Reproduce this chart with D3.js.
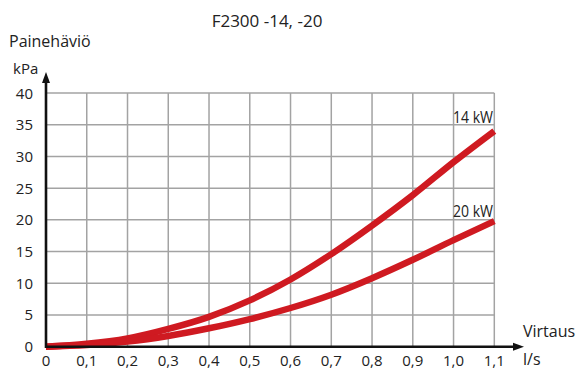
<!DOCTYPE html>
<html><head><meta charset="utf-8">
<script src="https://cdn.jsdelivr.net/npm/d3@7"></script>
<style>
html,body{margin:0;padding:0;background:#fff;}
svg{display:block;}
text{font-family:"Open Sans","Noto Sans",sans-serif;fill:#222;}
</style></head>
<body>
<svg id="c" width="578" height="369"></svg>
<script>
const title = "F2300 -14, -20";
const yTitle = "Painehäviö";
const yUnit = "kPa";
const xTitle = "Virtaus";
const xUnit = "l/s";
const flow = [0, 0.1, 0.2, 0.3, 0.4, 0.5, 0.6, 0.7, 0.8, 0.9, 1.0, 1.1];
const kw14 = [0, 0.45, 1.3, 2.8, 4.7, 7.3, 10.6, 14.6, 19.1, 23.9, 29.1, 34.0];
const kw20 = [0, 0.25, 0.8, 1.7, 2.9, 4.35, 6.1, 8.2, 10.8, 13.7, 16.8, 19.8];
const seriesNames = ["14 kW", "20 kW"];
const xTicks = [0, 0.1, 0.2, 0.3, 0.4, 0.5, 0.6, 0.7, 0.8, 0.9, 1.0, 1.1];
const yTicks = [0, 5, 10, 15, 20, 25, 30, 35, 40];

const svg = d3.select("#c");
const x = d3.scaleLinear().domain([0, 1.1]).range([46, 494.3]);
const y = d3.scaleLinear().domain([0, 40]).range([346.7, 93]);
const fmt = v => v === 0 ? "0" : d3.format(".1f")(v).replace(".", ",");

// grid
const grid = svg.append("g").attr("stroke", "#a3a3a3").attr("stroke-width", 1.5);
xTicks.filter(v => v > 0).forEach(v => {
  grid.append("line").attr("x1", x(v)).attr("x2", x(v)).attr("y1", y(0)).attr("y2", y(40));
});
yTicks.filter(v => v > 0).forEach(v => {
  grid.append("line").attr("x1", x(0)).attr("x2", x(1.1)).attr("y1", y(v)).attr("y2", y(v));
});

// curves
const line = d3.line().x((d, i) => x(flow[i])).y(d => y(d)).curve(d3.curveMonotoneX);
[kw14, kw20].forEach(s => {
  svg.append("path").attr("d", line(s)).attr("fill", "none")
    .attr("stroke", "#cf1a21").attr("stroke-width", 6.5).attr("stroke-linecap", "butt");
});

// axes
const ax = svg.append("g").attr("stroke", "#111").attr("stroke-width", 2.6);
ax.append("line").attr("x1", x(0)).attr("x2", 516).attr("y1", y(0)).attr("y2", y(0));
ax.append("line").attr("x1", x(0)).attr("x2", x(0)).attr("y1", y(0) + 1.3).attr("y2", 80);
svg.append("path").attr("d", `M524,${y(0)} L513,${y(0) - 4} L513,${y(0) + 4} Z`).attr("fill", "#111");
svg.append("path").attr("d", `M${x(0)},72 L${x(0) - 4},83 L${x(0) + 4},83 Z`).attr("fill", "#111");

// tick labels
svg.append("g").selectAll("text").data(xTicks).join("text")
  .attr("x", d => x(d)).attr("y", 366).attr("text-anchor", "middle")
  .attr("font-size", 15).text(fmt);
svg.append("g").selectAll("text").data(yTicks).join("text")
  .attr("x", 33).attr("y", d => y(d) + 5.5).attr("text-anchor", "end")
  .attr("font-size", 15).text(d => d);

// titles
svg.append("text").attr("x", 267).attr("y", 26.5).attr("text-anchor", "middle").attr("font-size", 17).text(title);
svg.append("text").attr("x", 9).attr("y", 47).attr("font-size", 16).text(yTitle);
svg.append("text").attr("x", 13).attr("y", 73.5).attr("font-size", 15).text(yUnit);
svg.append("text").attr("x", 523).attr("y", 336.5).attr("font-size", 16).text(xTitle);
svg.append("text").attr("x", 523).attr("y", 365).attr("font-size", 16).text(xUnit);

// series labels
svg.append("text").attr("x", 493).attr("y", 123).attr("text-anchor", "end")
  .attr("font-size", 16).attr("textLength", 40).attr("lengthAdjust", "spacingAndGlyphs").text(seriesNames[0]);
svg.append("text").attr("x", 493).attr("y", 217).attr("text-anchor", "end")
  .attr("font-size", 16).attr("textLength", 40).attr("lengthAdjust", "spacingAndGlyphs").text(seriesNames[1]);
</script>
</body></html>
